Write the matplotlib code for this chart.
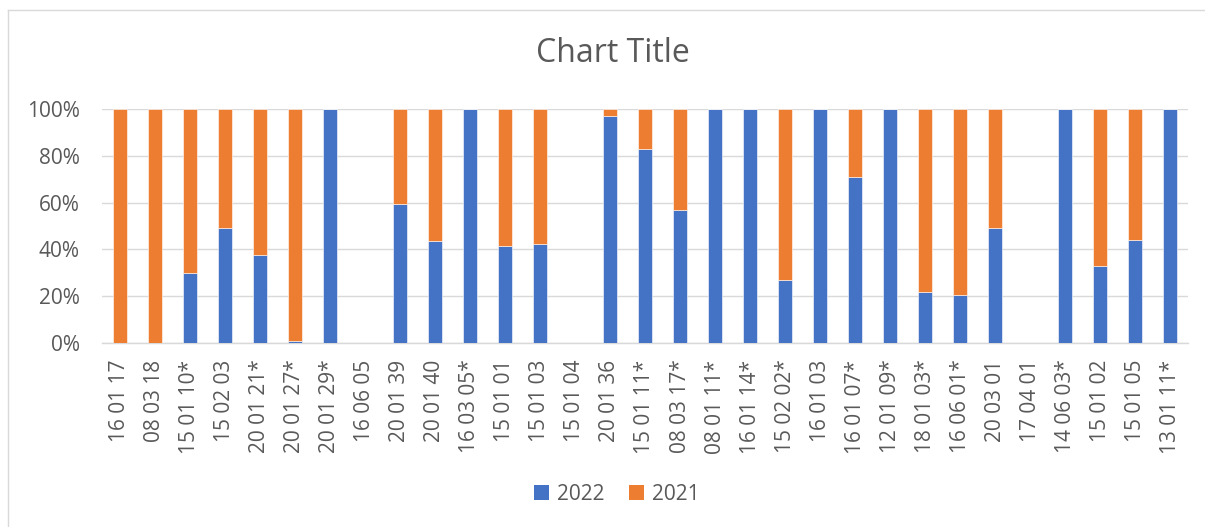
import numpy as np
import matplotlib.pyplot as plt
from matplotlib.patches import Patch
from matplotlib.lines import Line2D
from matplotlib.ticker import FuncFormatter

# data (share in %)
categories = ["16 01 17", "08 03 18", "15 01 10*", "15 02 03", "20 01 21*", "20 01 27*",
              "20 01 29*", "16 06 05", "20 01 39", "20 01 40", "16 03 05*", "15 01 01",
              "15 01 03", "15 01 04", "20 01 36", "15 01 11*", "08 03 17*", "08 01 11*",
              "16 01 14*", "15 02 02*", "16 01 03", "16 01 07*", "12 01 09*", "18 01 03*",
              "16 06 01*", "20 03 01", "17 04 01", "14 06 03*", "15 01 02", "15 01 05",
              "13 01 11*"]
y2022 = [0, 0, 30, 49, 37.5, 1, 100, 0, 59.5, 43.5, 100, 41.5,
         42.5, 0, 97, 83, 57, 100, 100, 27, 100, 71, 100, 22,
         20.5, 49, 0, 100, 33, 44, 100]
y2021 = [100, 100, 70, 51, 62.5, 99, 0, 0, 40.5, 56.5, 0, 58.5,
         57.5, 0, 3, 17, 43, 0, 0, 73, 0, 29, 0, 78,
         79.5, 51, 0, 0, 67, 56, 0]
series_names = ["2022", "2021"]

BLUE = "#4472C4"
ORANGE = "#ED7D31"
TXT = "#595959"
GRID = "#D9D9D9"

plt.rcParams['font.family'] = ['Open Sans', 'DejaVu Sans']

W, H = 1205, 527
fig = plt.figure(figsize=(W / 100, H / 100), dpi=100)

# chart area border, only top and left edges are visible in the crop
fig.lines.append(Line2D([8 / W, 1], [1 - 10 / H, 1 - 10 / H], transform=fig.transFigure,
                        color=GRID, linewidth=1.0))
fig.lines.append(Line2D([8 / W, 8 / W], [0, 1 - 10 / H], transform=fig.transFigure,
                        color=GRID, linewidth=1.0))

ax = fig.add_axes([102 / W, (H - 343) / H, 1086 / W, 234 / H])

x = np.arange(len(categories))
b1 = np.array(y2022, dtype=float)
b2 = np.array(y2021, dtype=float)
ax.bar(x, b1, width=0.4, color=BLUE, edgecolor="white", linewidth=0.4, zorder=3)
ax.bar(x, b2, width=0.4, bottom=b1, color=ORANGE, edgecolor="white", linewidth=0.4, zorder=3)

ax.set_xlim(-0.5, len(categories) - 0.5)
ax.set_ylim(0, 100)
ax.set_yticks(np.arange(0, 101, 20))
ax.yaxis.set_major_formatter(FuncFormatter(lambda v, p: f"{int(v)}%"))
ax.grid(axis="y", color=GRID, linewidth=1.0, zorder=0)
for s in ["top", "right", "left"]:
    ax.spines[s].set_visible(False)
ax.spines["bottom"].set_color(GRID)
ax.spines["bottom"].set_linewidth(1.0)

ax.set_xticks(x)
ax.set_xticklabels(categories, rotation=90, va="top", ha="center")
ax.tick_params(axis="x", length=0, pad=12, labelsize=15, labelcolor=TXT)
ax.tick_params(axis="y", length=0, pad=16, labelsize=15, labelcolor=TXT)

fig.text(613 / W, 1 - 53 / H, "Chart Title", ha="center", va="center",
         fontsize=23, color=TXT)

handles = [Patch(facecolor=BLUE), Patch(facecolor=ORANGE)]
fig.legend(handles, series_names, loc="center", bbox_to_anchor=(617 / W, 1 - 494 / H),
           ncol=2, frameon=False, fontsize=15, labelcolor=TXT,
           handlelength=0.7, handleheight=0.7, handletextpad=0.4, columnspacing=1.2)

fig.savefig("out.png", dpi=100)
